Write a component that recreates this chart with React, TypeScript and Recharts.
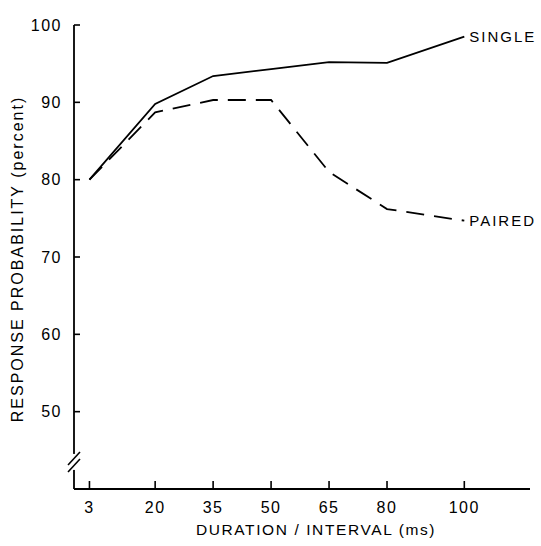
import { Label, Line, LineChart, ReferenceDot, XAxis, YAxis } from "recharts";

const durations = [3, 20, 35, 50, 65, 80, 100];
const single = [80, 89.8, 93.4, 94.3, 95.2, 95.1, 98.5];
const paired = [80, 88.7, 90.3, 90.3, 81.0, 76.2, 74.7];
const yTicks = [50, 60, 70, 80, 90, 100];

const data = durations.map((d, i) => ({ d, single: single[i], paired: paired[i] }));

const FONT = "'Liberation Sans', Arial, sans-serif";

function YTick({ x, y, payload }: any) {
  return (
    <g>
      <text x={x} y={y} textAnchor="end" dominantBaseline="central" fontFamily={FONT} fontSize={16} letterSpacing={1.5} fill="#000">
        {payload.value}
      </text>
      <line x1={x + 12} x2={x + 18} y1={y} y2={y} stroke="#000" strokeWidth={1.6} />
    </g>
  );
}

function XTick({ x, y, payload }: any) {
  return (
    <g>
      <line x1={x} x2={x} y1={y} y2={y - 8} stroke="#000" strokeWidth={1.6} />
      <text x={x} y={y + 24} textAnchor="middle" fontFamily={FONT} fontSize={16} letterSpacing={1.5} fill="#000">
        {payload.value}
      </text>
    </g>
  );
}

function endLabel(name: string) {
  return ({ x, y, index }: any) =>
    index === durations.length - 1 ? (
      <text x={x + 5} y={y} dominantBaseline="central" fontFamily={FONT} fontSize={15} letterSpacing={2} fill="#000">
        {name}
      </text>
    ) : null;
}

function AxisBreak({ cx, cy }: any) {
  return (
    <g>
      <rect x={cx - 3} y={cy - 8} width={6} height={16} fill="#fff" />
      <line x1={cx - 6} y1={cy + 3} x2={cx + 6} y2={cy - 10} stroke="#000" strokeWidth={1.6} />
      <line x1={cx - 6} y1={cy + 10} x2={cx + 6} y2={cy - 3} stroke="#000" strokeWidth={1.6} />
    </g>
  );
}

export default function App() {
  return (
    <div style={{ position: "absolute", left: 0, top: 0, width: 541, height: 546, background: "#fff" }}>
      <LineChart width={541} height={546} data={data} margin={{ top: 25, right: 11, left: 0, bottom: 0 }}>
        <XAxis
          dataKey="d"
          type="number"
          domain={[-1, 117]}
          ticks={durations}
          allowDataOverflow
          tickSize={0}
          tickMargin={0}
          tick={<XTick />}
          height={57}
          axisLine={{ stroke: "#000", strokeWidth: 1.8 }}
          tickLine={false}
        >
          <Label
            value="DURATION / INTERVAL (ms)"
            position="insideBottom"
            offset={11}
            dx={14}
            style={{ fontFamily: FONT, fontSize: 15.5, letterSpacing: 1.6, fill: "#000" }}
          />
        </XAxis>
        <YAxis
          type="number"
          domain={[40, 100]}
          ticks={yTicks}
          allowDataOverflow
          width={74}
          tickSize={0}
          tickMargin={12}
          tick={<YTick />}
          axisLine={{ stroke: "#000", strokeWidth: 1.8 }}
          tickLine={false}
        >
          <Label
            value="RESPONSE PROBABILITY (percent)"
            angle={-90}
            position="insideLeft"
            offset={17}
            dy={2}
            style={{ textAnchor: "middle", fontFamily: FONT, fontSize: 16, letterSpacing: 2, fill: "#000" }}
          />
        </YAxis>
        <ReferenceDot x={-1} y={43.5} r={0} ifOverflow="visible" shape={<AxisBreak />} />
        <Line
          dataKey="single"
          type="linear"
          stroke="#000"
          strokeWidth={1.8}
          dot={false}
          isAnimationActive={false}
          label={endLabel("SINGLE")}
        />
        <Line
          dataKey="paired"
          type="linear"
          stroke="#000"
          strokeWidth={1.8}
          strokeDasharray="18 10"
          dot={false}
          isAnimationActive={false}
          label={endLabel("PAIRED")}
        />
      </LineChart>
    </div>
  );
}
